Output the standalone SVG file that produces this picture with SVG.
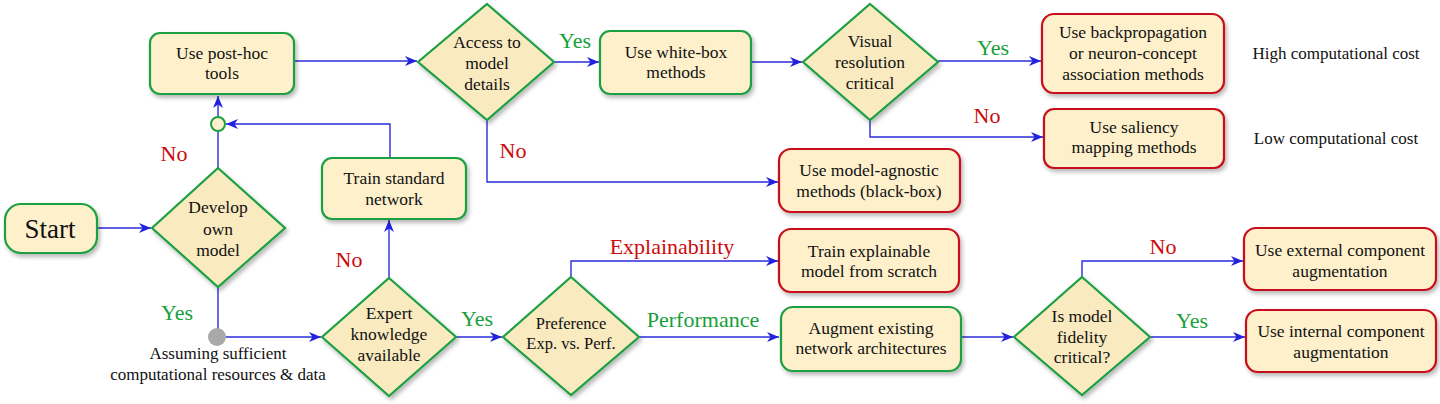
<svg xmlns="http://www.w3.org/2000/svg" width="1440" height="404" viewBox="0 0 1440 404" font-family="'Liberation Serif', 'DejaVu Serif', serif">
<defs>
<filter id="sh" x="-20%" y="-20%" width="140%" height="150%">
<feDropShadow dx="2" dy="3" stdDeviation="2" flood-color="#000" flood-opacity="0.28"/>
</filter>
<marker id="ah" markerUnits="userSpaceOnUse" markerWidth="13" markerHeight="10" refX="12" refY="5" orient="auto">
<path d="M0,0 L12,5 L0,10 L3.5,5 Z" fill="#2222DD"/>
</marker>
<style>
text{font-family:'Liberation Serif','DejaVu Serif',serif}
.box{fill:#FDF0CB;stroke-width:2.2;filter:url(#sh)}
.g{stroke:#1EA043}
.r{stroke:#C8101A}
.dia{fill:#F9EAC0;stroke:#1EA043;stroke-width:2.2;filter:url(#sh)}
.t{font-size:17.5px;fill:#111;text-anchor:middle;dominant-baseline:central}
.note{font-size:17px;fill:#111;text-anchor:middle;dominant-baseline:central}
.lbl{font-size:22px;text-anchor:middle;dominant-baseline:central}
.yes{fill:#17A03A}
.no{fill:#CC0A0A}
.c{fill:none;stroke:#2B2BDD;stroke-width:1.4}
.ca{fill:none;stroke:#2B2BDD;stroke-width:1.4;marker-end:url(#ah)}
</style>
</defs>
<rect width="1440" height="404" fill="#fff"/>

<g id="connectors">
<path class="ca" d="M97,228 L151,228"/>
<path class="c" d="M218,168 L218,131"/>
<path class="ca" d="M218,117 L218,96"/>
<path class="ca" d="M390,158 L390,124 L226,124"/>
<path class="c" d="M218,287 L218,330"/>
<path class="ca" d="M226,337 L321,337"/>
<path class="ca" d="M389,278 L389,220"/>
<path class="ca" d="M294,61 L417,61"/>
<path class="ca" d="M554,62 L599,62"/>
<path class="ca" d="M751,62 L802,62"/>
<path class="ca" d="M938,61 L1041,61"/>
<path class="ca" d="M870,120 L870,137 L1043,137"/>
<path class="ca" d="M487,120 L487,182 L778,182"/>
<path class="ca" d="M456,337 L502,337"/>
<path class="ca" d="M571,277 L571,261 L778,261"/>
<path class="ca" d="M639,337 L779,337"/>
<path class="ca" d="M961,337 L1013,337"/>
<path class="ca" d="M1082,277 L1082,261 L1243,261"/>
<path class="ca" d="M1150,337 L1245,337"/>
</g>

<g id="labels">
<text class="lbl no" x="174" y="153">No</text>
<text class="lbl yes" x="177" y="312">Yes</text>
<text class="lbl no" x="349" y="259">No</text>
<text class="lbl yes" x="477" y="318">Yes</text>
<text class="lbl yes" x="575" y="40">Yes</text>
<text class="lbl no" x="513" y="150">No</text>
<text class="lbl yes" x="993" y="47">Yes</text>
<text class="lbl no" x="987" y="115">No</text>
<text class="lbl no" x="672" y="246">Explainability</text>
<text class="lbl yes" x="703" y="319">Performance</text>
<text class="lbl no" x="1163" y="246">No</text>
<text class="lbl yes" x="1192" y="320">Yes</text>
</g>

<g id="start">
<rect class="box g" x="5" y="204" width="92" height="49" rx="16"/>
<text class="t" x="50" y="229" style="font-size:27px">Start</text>
</g>

<g id="develop">
<polygon class="dia" points="218,168 285,228 218,287 152,228"/>
<text class="t" x="218" y="207">Develop</text>
<text class="t" x="218" y="229">own</text>
<text class="t" x="218" y="250">model</text>
</g>

<g id="junction">
<circle cx="218" cy="124" r="7" fill="#FDF0CB" stroke="#1EA043" stroke-width="2"/>
</g>

<g id="assume">
<circle cx="217" cy="337" r="9" fill="#A9A9A9"/>
<text class="note" x="218" y="353">Assuming sufficient</text>
<text class="note" x="218" y="374">computational resources &amp; data</text>
</g>

<g id="posthoc">
<rect class="box g" x="150" y="33" width="144" height="61" rx="10"/>
<text class="t" x="222" y="53">Use post-hoc</text>
<text class="t" x="222" y="73">tools</text>
</g>

<g id="trainstd">
<rect class="box g" x="322" y="158" width="144" height="61" rx="10"/>
<text class="t" x="394" y="178">Train standard</text>
<text class="t" x="394" y="199">network</text>
</g>

<g id="expert">
<polygon class="dia" points="389,278 456,337 389,396 322,337"/>
<text class="t" x="389" y="313">Expert</text>
<text class="t" x="389" y="334">knowledge</text>
<text class="t" x="389" y="355">available</text>
</g>

<g id="access">
<polygon class="dia" points="487,4 554,62 487,120 418,62"/>
<text class="t" x="487" y="42">Access to</text>
<text class="t" x="487" y="63">model</text>
<text class="t" x="487" y="84">details</text>
</g>

<g id="whitebox">
<rect class="box g" x="600" y="31" width="151" height="63" rx="10"/>
<text class="t" x="676" y="52">Use white-box</text>
<text class="t" x="676" y="72">methods</text>
</g>

<g id="visual">
<polygon class="dia" points="870,4 938,62 870,120 803,62"/>
<text class="t" x="870" y="41">Visual</text>
<text class="t" x="870" y="62">resolution</text>
<text class="t" x="870" y="83">critical</text>
</g>

<g id="backprop">
<rect class="box r" x="1042" y="14" width="182" height="79" rx="12"/>
<text class="t" x="1133" y="32">Use backpropagation</text>
<text class="t" x="1133" y="53">or neuron-concept</text>
<text class="t" x="1133" y="74">association methods</text>
</g>
<text class="note" x="1336" y="53">High computational cost</text>

<g id="saliency">
<rect class="box r" x="1044" y="109" width="180" height="59" rx="10"/>
<text class="t" x="1134" y="127">Use saliency</text>
<text class="t" x="1134" y="147">mapping methods</text>
</g>
<text class="note" x="1336" y="138">Low computational cost</text>

<g id="agnostic">
<rect class="box r" x="779" y="149" width="181" height="63" rx="12"/>
<text class="t" x="869" y="170">Use model-agnostic</text>
<text class="t" x="869" y="191">methods (black-box)</text>
</g>

<g id="preference">
<polygon class="dia" points="571,277 639,337 571,395 503,337"/>
<text class="t" x="571" y="323" style="font-size:16.5px">Preference</text>
<text class="t" x="571" y="343" style="font-size:16.5px">Exp. vs. Perf.</text>
</g>

<g id="trainexp">
<rect class="box r" x="779" y="229" width="180" height="63" rx="12"/>
<text class="t" x="869" y="251">Train explainable</text>
<text class="t" x="869" y="271">model from scratch</text>
</g>

<g id="augment">
<rect class="box g" x="781" y="307" width="180" height="64" rx="12"/>
<text class="t" x="871" y="328">Augment existing</text>
<text class="t" x="871" y="348">network architectures</text>
</g>

<g id="fidelity">
<polygon class="dia" points="1082,277 1150,337 1082,395 1014,337"/>
<text class="t" x="1082" y="316">Is model</text>
<text class="t" x="1082" y="337">fidelity</text>
<text class="t" x="1082" y="357">critical?</text>
</g>

<g id="external">
<rect class="box r" x="1244" y="228" width="192" height="62" rx="12"/>
<text class="t" x="1340" y="250">Use external component</text>
<text class="t" x="1340" y="271">augmentation</text>
</g>

<g id="internal">
<rect class="box r" x="1246" y="310" width="190" height="62" rx="12"/>
<text class="t" x="1341" y="331">Use internal component</text>
<text class="t" x="1341" y="352">augmentation</text>
</g>
</svg>
